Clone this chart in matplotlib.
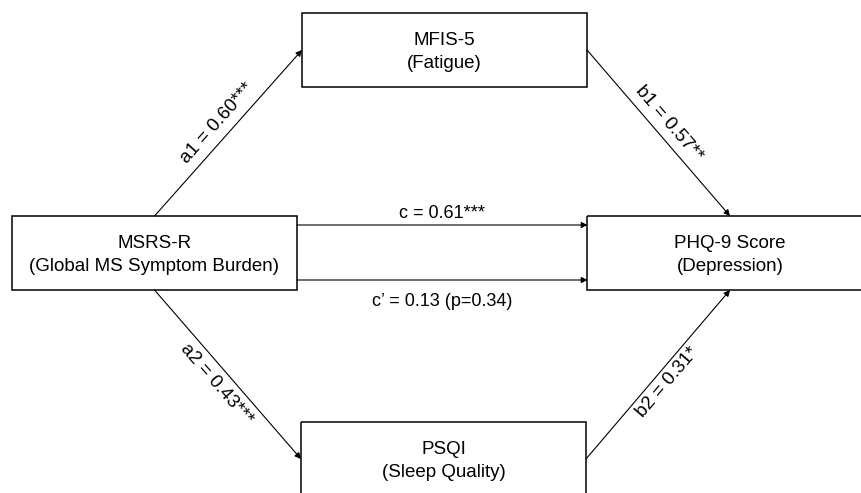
import matplotlib
matplotlib.use("Agg")
import matplotlib.pyplot as plt
from matplotlib.patches import Rectangle, FancyArrowPatch
import numpy as np

plt.rcParams['font.family'] = ['Liberation Sans', 'DejaVu Sans']

# --- data ---
node_names = ["MSRS-R", "MFIS-5", "PSQI", "PHQ-9 Score"]
node_subtitles = ["(Global MS Symptom Burden)", "(Fatigue)", "(Sleep Quality)", "(Depression)"]
path_names = ["a1", "b1", "a2", "b2", "c", "c'"]
path_coefs = ["0.60***", "0.57**", "0.43***", "0.31*", "0.61***", "0.13 (p=0.34)"]

W, H = 862, 493
fig = plt.figure(figsize=(W / 100, H / 100), dpi=100)
ax = fig.add_axes([0, 0, 1, 1])
ax.set_xlim(0, W)
ax.set_ylim(H, 0)
ax.axis("off")

# layout (pixel coordinates)
bw, bh = 285, 74
centers = {
    "MSRS-R": (154.5, 253),
    "MFIS-5": (444.5, 50),
    "PSQI": (443.5, 459),
    "PHQ-9 Score": (730, 253),
}

for name, sub in zip(node_names, node_subtitles):
    cx, cy = centers[name]
    ax.add_patch(Rectangle((cx - bw / 2, cy - bh / 2), bw, bh, fill=False,
                           edgecolor="black", lw=1.1, clip_on=True))
    ax.text(cx, cy + 2, f"{name}\n{sub}", ha="center", va="center",
            fontsize=13.5, linespacing=1.4)


def arrow(p0, p1):
    ax.add_patch(FancyArrowPatch(p0, p1, arrowstyle="-|>", mutation_scale=9,
                                 lw=0.8, color="black", shrinkA=0, shrinkB=0))


def label_on(p0, p1, text, side, off=14):
    (x0, y0), (x1, y1) = p0, p1
    mx, my = (x0 + x1) / 2, (y0 + y1) / 2
    dx, dy = x1 - x0, y1 - y0
    L = np.hypot(dx, dy)
    ux, uy = dx / L, dy / L
    nx, ny = uy, -ux
    if ny > 0:
        nx, ny = -nx, -ny
    if side == "below":
        nx, ny = -nx, -ny
    ang = np.degrees(np.arctan2(-dy, dx))
    if ang > 90:
        ang -= 180
    if ang < -90:
        ang += 180
    ax.text(mx + nx * off, my + ny * off, text, rotation=ang,
            rotation_mode="anchor", ha="center", va="center", fontsize=13.5)


msrs = centers["MSRS-R"]; mfis = centers["MFIS-5"]
psqi = centers["PSQI"]; phq = centers["PHQ-9 Score"]

a1 = ((msrs[0], msrs[1] - bh / 2), (mfis[0] - bw / 2, mfis[1]))
b1 = ((mfis[0] + bw / 2, mfis[1]), (phq[0], phq[1] - bh / 2))
a2 = ((msrs[0], msrs[1] + bh / 2), (psqi[0] - bw / 2, psqi[1]))
b2 = ((psqi[0] + bw / 2, psqi[1]), (phq[0], phq[1] + bh / 2))
c_ = ((msrs[0] + bw / 2, msrs[1] - 28), (phq[0] - bw / 2, phq[1] - 28))
cp = ((msrs[0] + bw / 2, msrs[1] + 27), (phq[0] - bw / 2, phq[1] + 27))

paths = [a1, b1, a2, b2]
sides = ["above", "above", "below", "below"]
offs = [15, 14, 15, 12]
for (p0, p1), nm, cf, sd, of in zip(paths, path_names[:4], path_coefs[:4], sides, offs):
    arrow(p0, p1)
    label_on(p0, p1, f"{nm} = {cf}", sd, off=of)

arrow(*c_)
arrow(*cp)
ax.text((c_[0][0] + c_[1][0]) / 2, c_[0][1] - 12, f"c = {path_coefs[4]}",
        ha="center", va="center", fontsize=13)
ax.text((cp[0][0] + cp[1][0]) / 2, cp[0][1] + 21, f"c\u2019 = {path_coefs[5]}",
        ha="center", va="center", fontsize=13)

fig.savefig("out.png", dpi=100, facecolor="white")
